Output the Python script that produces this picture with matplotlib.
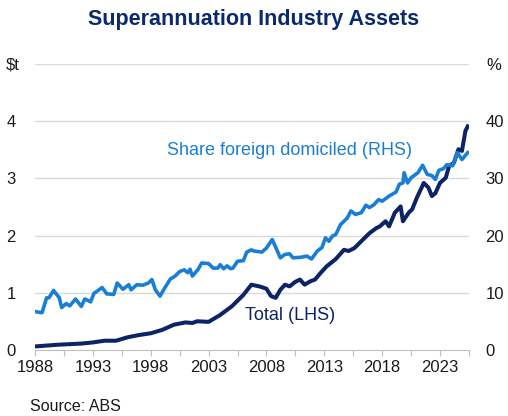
import matplotlib
matplotlib.use("Agg")
import numpy as np
import matplotlib.pyplot as plt

plt.rcParams['font.family'] = ['Liberation Sans', 'DejaVu Sans']

# share of assets foreign domiciled (RHS, %)
share_year = [1988.0, 1988.6, 1989.0, 1989.2, 1989.6, 1990.1, 1990.3, 1990.7, 1991.0, 1991.5,
              1992.0, 1992.3, 1992.8, 1993.1, 1993.8, 1994.2, 1994.8, 1995.1, 1995.6, 1996.1,
              1996.3, 1996.8, 1997.3, 1997.8, 1998.1, 1998.4, 1998.8, 1999.2, 1999.7, 2000.1,
              2000.5, 2000.9, 2001.2, 2001.4, 2001.6, 2002.1, 2002.4, 2003.0, 2003.4, 2003.8,
              2004.0, 2004.3, 2004.6, 2004.9, 2005.1, 2005.5, 2006.0, 2006.3, 2006.7, 2006.9,
              2007.6, 2008.0, 2008.5, 2008.9, 2009.2, 2009.6, 2010.0, 2010.3, 2011.0, 2011.5,
              2011.9, 2012.4, 2012.8, 2013.1, 2013.4, 2013.7, 2014.0, 2014.4, 2015.0, 2015.3,
              2015.7, 2016.2, 2016.6, 2016.9, 2017.3, 2017.7, 2018.0, 2018.6, 2019.2, 2019.5,
              2019.8, 2019.9, 2020.2, 2020.5, 2021.1, 2021.5, 2021.9, 2022.3, 2022.6, 2022.9,
              2023.3, 2023.6, 2024.1, 2024.5, 2024.9, 2025.4]
share_pct = [6.7, 6.5, 9.1, 9.1, 10.4, 9.1, 7.4, 8.1, 7.7, 8.9,
             7.6, 8.9, 8.4, 9.9, 10.9, 9.8, 9.7, 11.7, 10.6, 11.4,
             10.5, 11.4, 11.3, 11.7, 12.3, 10.5, 9.4, 10.8, 12.4, 12.9,
             13.7, 14.0, 13.5, 14.1, 12.9, 14.1, 15.2, 15.1, 14.3, 14.3,
             14.9, 14.2, 14.7, 14.2, 14.3, 15.5, 15.6, 17.1, 17.5, 17.3,
             17.1, 17.8, 19.3, 17.5, 16.1, 16.7, 16.8, 16.1, 16.2, 16.4,
             15.9, 17.3, 17.9, 19.6, 19.0, 19.9, 20.2, 21.9, 23.1, 24.3,
             23.7, 24.0, 25.3, 24.9, 25.4, 26.3, 26.0, 26.9, 27.6, 29.0,
             29.2, 31.0, 29.2, 30.1, 31.0, 32.3, 30.7, 30.5, 29.8, 31.4,
             31.7, 32.4, 32.2, 34.5, 33.3, 34.5]

# total superannuation assets (LHS, $ trillion)
total_year = [1988.0, 1990.0, 1992.0, 1993.0, 1994.0, 1995.0, 1996.0, 1997.0, 1998.0, 1999.0,
              2000.0, 2001.0, 2001.6, 2002.0, 2003.0, 2004.0, 2005.0, 2006.0, 2006.7, 2007.4,
              2008.0, 2008.4, 2008.8, 2009.2, 2009.6, 2010.0, 2010.5, 2010.9, 2011.3, 2011.8,
              2012.2, 2012.7, 2013.2, 2014.0, 2014.7, 2015.1, 2015.6, 2016.2, 2016.9, 2017.5,
              2017.8, 2018.3, 2018.6, 2019.1, 2019.6, 2019.8, 2020.3, 2020.6, 2021.0, 2021.6,
              2022.0, 2022.3, 2022.6, 2023.0, 2023.5, 2023.8, 2024.2, 2024.6, 2024.9, 2025.2,
              2025.4]
total_tn = [0.06, 0.09, 0.11, 0.13, 0.16, 0.16, 0.22, 0.26, 0.29, 0.35,
            0.44, 0.48, 0.47, 0.50, 0.49, 0.61, 0.76, 0.96, 1.14, 1.11,
            1.07, 0.94, 0.91, 1.05, 1.14, 1.11, 1.19, 1.23, 1.14, 1.20,
            1.23, 1.35, 1.46, 1.59, 1.75, 1.73, 1.78, 1.90, 2.04, 2.13,
            2.16, 2.25, 2.16, 2.40, 2.51, 2.25, 2.40, 2.46, 2.66, 2.92,
            2.84, 2.69, 2.74, 2.92, 3.01, 3.22, 3.27, 3.51, 3.48, 3.83,
            3.91]

navy = '#0c2366'
light = '#1a7fd4'
grid_c = '#d9d9d9'

fig = plt.figure(figsize=(5.08, 4.16), dpi=100)
ax = fig.add_axes([0.069, 0.159, 0.854, 0.687])
ax2 = ax.twinx()

ax.plot(total_year, total_tn, color=navy, lw=2.9, zorder=3, solid_joinstyle='round')
ax2.plot(share_year, share_pct, color=light, lw=2.6, zorder=2, solid_joinstyle='round')

ax.set_ylim(0, 5)
ax2.set_ylim(0, 50)
ax.set_xlim(1988, 2025.5)

ax.set_yticks([0, 1, 2, 3, 4])
ax2.set_yticks([0, 10, 20, 30, 40])
for y in [1, 2, 3, 4, 5]:
    ax.axhline(y, color=grid_c, lw=1, zorder=0)

xt = np.arange(1988, 2026, 2.5)
ax.set_xticks(xt)
ax.set_xticklabels([str(int(v)) if v % 5 == 3 else '' for v in xt])

for a in (ax, ax2):
    for s in a.spines.values():
        s.set_visible(False)
    a.tick_params(axis='y', length=0, labelsize=12, colors='#1a1a1a')
ax.spines['bottom'].set_visible(True)
ax.spines['bottom'].set_color('#bfbfbf')
ax.tick_params(axis='x', length=4, color='#bfbfbf', labelsize=12,
               labelcolor='#1a1a1a', pad=3)
ax.tick_params(axis='y', pad=14)
ax2.tick_params(axis='y', pad=12)

fig.text(0.5, 0.952, 'Superannuation Industry Assets', ha='center', va='center',
         fontsize=15.5, fontweight='bold', color='#0b2a6e')
fig.text(0.012, 0.843, '$t', ha='left', va='center', fontsize=12, color='#1a1a1a')
fig.text(0.972, 0.843, '%', ha='center', va='center', fontsize=12, color='#1a1a1a')
fig.text(0.06, 0.024, 'Source: ABS', ha='left', va='center', fontsize=11.5, color='#1a1a1a')

ax.text(2010.0, 3.49, 'Share foreign domiciled (RHS)', ha='center', va='center',
        fontsize=13, color=light)
ax.text(2010.0, 0.6, 'Total (LHS)', ha='center', va='center', fontsize=13, color=navy)

fig.savefig('out.png', dpi=100)
